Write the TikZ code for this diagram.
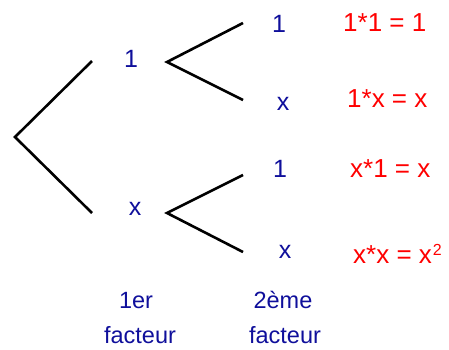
\documentclass[tikz,border=0pt]{standalone}
\usepackage{fontspec}
\setmainfont{Liberation Sans}
\definecolor{navy}{RGB}{15,15,155}
\definecolor{resred}{RGB}{255,0,0}
\begin{document}
\begin{tikzpicture}[x=1pt,y=-1pt,
  every node/.style={inner sep=0pt,anchor=base},
  factor/.style={text=navy,font=\fontsize{25}{29}\selectfont},
  caption/.style={text=navy,font=\fontsize{23.5}{28}\selectfont},
  result/.style={text=resred,anchor=base west,font=\fontsize{26}{30}\selectfont},
  branch/.style={line width=2.6pt,line cap=butt,line join=miter}]
\useasboundingbox (0,0) rectangle (449,349);
% branch points
\coordinate (r) at (15,137);
\coordinate (ra) at (92,61);
\coordinate (rb) at (92,213);
\coordinate (a) at (167,62);
\coordinate (aa) at (243,23);
\coordinate (ab) at (243,100);
\coordinate (b) at (167,213);
\coordinate (ba) at (243,175);
\coordinate (bb) at (243,252);
\draw[branch] (ra) -- (r) -- (rb);
\draw[branch] (aa) -- (a) -- (ab);
\draw[branch] (ba) -- (b) -- (bb);
% first factor
\node[factor] (f1) at (131,67) {1};
\node[factor] (fx) at (135,215) {x};
% second factor
\node[factor] (s11) at (279,32) {1};
\node[factor] (s1x) at (283,110) {x};
\node[factor] (sx1) at (280,177) {1};
\node[factor] (sxx) at (285,258) {x};
% results
\node[result] (p11) at (343,31) {1*1 = 1};
\node[result] (p1x) at (347,107) {1*x = x};
\node[result] (px1) at (350,177) {x*1 = x};
\node[result] (pxx) at (353,263) {x*x = x\kern1pt\raisebox{8pt}{\fontsize{16}{17}\selectfont 2}};
% labels
\node[caption] (l1a) at (136,308) {1er};
\node[caption] (l1b) at (140,343) {facteur};
\node[caption] (l2a) at (283,308) {2ème};
\node[caption] (l2b) at (285,343) {facteur};
\end{tikzpicture}
\end{document}
